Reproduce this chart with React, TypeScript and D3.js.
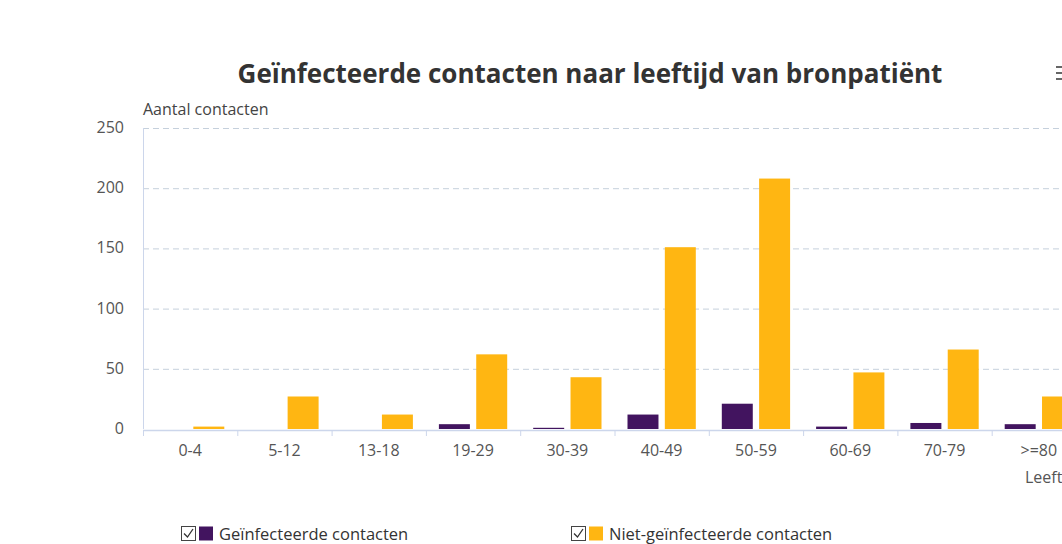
import { useEffect, useRef } from "react";
import * as d3 from "d3";

const categories = ["0-4", "5-12", "13-18", "19-29", "30-39", "40-49", "50-59", "60-69", "70-79", ">=80"];
const infected = [0, 0, 0, 4, 1, 12, 21, 2, 5, 4];
const notInfected = [2, 27, 12, 62, 43, 151, 208, 47, 66, 27];
const yTicks = [0, 50, 100, 150, 200, 250];
const seriesNames = ["Geïnfecteerde contacten", "Niet-geïnfecteerde contacten"];
const seriesColors = ["#42145f", "#ffb612"];

const FONT = "'Open Sans', 'Noto Sans', sans-serif";

const App = () => {
  const ref = useRef<SVGSVGElement>(null);

  useEffect(() => {
    const svg = d3.select(ref.current);
    svg.selectAll("*").remove();

    const left = 143;
    const top = 128;
    const bottom = 429;
    const bandW = 94.3;

    const x0 = d3
      .scaleBand()
      .domain(categories)
      .range([left, left + bandW * categories.length])
      .padding(0);
    const x1 = d3
      .scaleBand()
      .domain(["a", "b"])
      .range([13, x0.bandwidth() - 13])
      .paddingInner(0.17);
    const y = d3.scaleLinear().domain([0, 250]).range([bottom, top]);

    // title
    svg
      .append("text")
      .attr("x", 590)
      .attr("y", 83)
      .attr("text-anchor", "middle")
      .style("font-family", FONT)
      .style("font-weight", "bold")
      .style("font-size", "26px")
      .attr("fill", "#333")
      .text("Geïnfecteerde contacten naar leeftijd van bronpatiënt");

    // menu icon
    const menu = svg.append("g").attr("stroke", "#666").attr("stroke-width", 2);
    [67, 73, 79].forEach((yy) => {
      menu.append("line").attr("x1", 1056).attr("x2", 1066).attr("y1", yy).attr("y2", yy);
    });

    // grid
    svg
      .append("g")
      .selectAll("line")
      .data(yTicks.filter((t) => t > 0))
      .join("line")
      .attr("x1", left)
      .attr("x2", 1100)
      .attr("y1", (d) => y(d) + 0.5)
      .attr("y2", (d) => y(d) + 0.5)
      .attr("stroke", "#c5d0dc")
      .attr("stroke-dasharray", "6,4");

    // left axis line
    svg
      .append("line")
      .attr("x1", left + 0.5)
      .attr("x2", left + 0.5)
      .attr("y1", top)
      .attr("y2", bottom)
      .attr("stroke", "#ccd6eb");

    // y tick labels
    svg
      .append("g")
      .selectAll("text")
      .data(yTicks)
      .join("text")
      .attr("x", 124)
      .attr("y", (d) => y(d) + 5)
      .attr("text-anchor", "end")
      .style("font-family", FONT)
      .style("font-size", "16px")
      .attr("fill", "#555")
      .text((d) => d);

    svg
      .append("text")
      .attr("x", 143)
      .attr("y", 115)
      .style("font-family", FONT)
      .style("font-size", "16px")
      .attr("fill", "#444")
      .text("Aantal contacten");

    // bars
    const g = svg.append("g");
    categories.forEach((c, i) => {
      const vals = [infected[i], notInfected[i]];
      ["a", "b"].forEach((k, j) => {
        if (vals[j] <= 0) return;
        g.append("rect")
          .attr("x", (x0(c) as number) + (x1(k) as number))
          .attr("y", y(vals[j]))
          .attr("width", x1.bandwidth())
          .attr("height", bottom - y(vals[j]))
          .attr("fill", seriesColors[j]);
      });
    });

    // x axis
    svg
      .append("line")
      .attr("x1", left)
      .attr("x2", 1100)
      .attr("y1", bottom + 1.5)
      .attr("y2", bottom + 1.5)
      .attr("stroke", "#ccd6eb")
      .attr("stroke-width", 1.5);
    svg
      .append("g")
      .selectAll("line")
      .data(d3.range(categories.length + 1))
      .join("line")
      .attr("x1", (i) => left + bandW * i + 0.5)
      .attr("x2", (i) => left + bandW * i + 0.5)
      .attr("y1", bottom + 1)
      .attr("y2", bottom + 7)
      .attr("stroke", "#ccd6eb");

    svg
      .append("g")
      .selectAll("text")
      .data(categories)
      .join("text")
      .attr("x", (d) => (x0(d) as number) + x0.bandwidth() / 2)
      .attr("y", 456)
      .attr("text-anchor", "middle")
      .style("font-family", FONT)
      .style("font-size", "16px")
      .attr("fill", "#555")
      .text((d) => d);

    // axis title, cut off at the right edge as in the source
    svg
      .append("text")
      .attr("x", 1025)
      .attr("y", 483)
      .style("font-family", FONT)
      .style("font-size", "16px")
      .attr("fill", "#555")
      .text("Leeftijdsgroep");

    // legend
    const legendX = [181, 571];
    seriesNames.forEach((name, i) => {
      const lg = svg.append("g").attr("transform", `translate(${legendX[i]},526)`);
      lg.append("rect")
        .attr("x", 0.5)
        .attr("y", 0.5)
        .attr("width", 14)
        .attr("height", 14)
        .attr("fill", "white")
        .attr("stroke", "#444");
      lg.append("path")
        .attr("d", "M3,7.5 L6.5,11 L12,3")
        .attr("fill", "none")
        .attr("stroke", "#333")
        .attr("stroke-width", 1.3);
      lg.append("rect")
        .attr("x", 18)
        .attr("y", 0.5)
        .attr("width", 14)
        .attr("height", 14)
        .attr("fill", seriesColors[i]);
      lg.append("text")
        .attr("x", 38)
        .attr("y", 14)
        .style("font-family", FONT)
        .style("font-size", "16.5px")
        .attr("fill", "#333")
        .text(name);
    });
  }, []);

  return (
    <svg
      ref={ref}
      width={1062}
      height={544}
      style={{ position: "absolute", left: 0, top: 0, background: "white" }}
    ></svg>
  );
};

export default App;
